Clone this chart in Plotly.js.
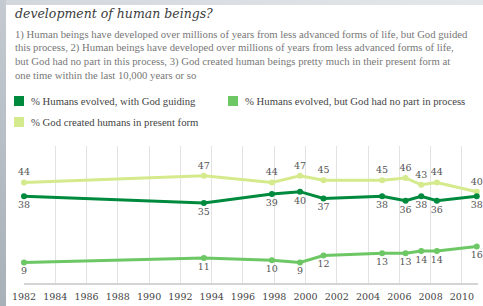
<!DOCTYPE html>
<html><head><meta charset="utf-8">
<script src="https://cdn.plot.ly/plotly-3.0.1.min.js"></script>
<style>
html,body{margin:0;padding:0;background:#fff;}
#wrap{position:relative;width:483px;height:306px;overflow:hidden;background:#fff;}
#top{position:absolute;left:0;top:0;width:483px;height:5px;background:linear-gradient(to right,#d2d7dc,#e4e7ea);}
#left{position:absolute;left:0;top:0;width:6px;height:306px;background:linear-gradient(to bottom,#c4cad0,#a8b0b8);}
#chart{position:absolute;left:0;top:0;width:483px;height:306px;}
</style></head>
<body><div id="wrap"><div id="top"></div><div id="left"></div><div id="chart"></div></div>
<script>
const years = [1982.0, 1993.5, 1997.85, 1999.65, 2001.15, 2004.9, 2006.4, 2007.4, 2008.4, 2010.95];
const godGuiding = [38, 35, 39, 40, 37, 38, 36, 38, 36, 38];
const noGod = [9, 11, 10, 9, 12, 13, 13, 14, 14, 16];
const created = [44, 47, 44, 47, 45, 45, 46, 43, 44, 40];
const tickYears = [1982,1984,1986,1988,1990,1992,1994,1996,1998,2000,2002,2004,2006,2008,2010];
const seriesNames = ["% Humans evolved, with God guiding", "% Humans evolved, but God had no part in process", "% God created humans in present form"];
const colors = ["#008a3e", "#6cc764", "#d5ea8c"];
const titleText = "development of human beings?";
const subtitleLines = [
 "1) Human beings have developed over millions of years from less advanced forms of life, but God guided",
 "this process, 2) Human beings have developed over millions of years from less advanced forms of life,",
 "but God had no part in this process, 3) God created human beings pretty much in their present form at",
 "one time within the last 10,000 years or so"
];

const W = 483, H = 306, L = 24, R = 5, T = 146, B = 23;
const pw = W - L - R, ph = H - T - B;
const px = x => (x - L) / pw;
const py = y => (H - B - y) / ph;
const serif = "Liberation Serif";
const dserif = "DejaVu Serif";
const lblFont = {family: dserif, size: 9.5, color: "#555"};

function tr(vals, i, pos) {
  return {x: years, y: vals, type: "scatter", mode: "lines+markers+text",
    name: seriesNames[i], text: vals.map(String), textposition: pos,
    textfont: lblFont, cliponaxis: false, showlegend: false,
    line: {color: colors[i], width: 3}, marker: {color: colors[i], size: 6}, hoverinfo: "skip"};
}
const data = [tr(created, 2, "top center"), tr(godGuiding, 0, "bottom center"), tr(noGod, 1, "bottom center")];

const annotations = subtitleLines.map((t, k) => ({
  text: t, xref: "paper", yref: "paper", x: px(13), y: py(34 + k * 13.6),
  xanchor: "left", yanchor: "middle", showarrow: false,
  font: {family: serif, size: 10.7, color: "#777"}
}));
const shapes = [];
const legPos = [[14, 101], [228, 101], [14, 122]];
legPos.forEach((p, i) => {
  shapes.push({type: "rect", xref: "paper", yref: "paper", x0: px(p[0]), x1: px(p[0] + 10),
    y0: py(p[1] - 5), y1: py(p[1] + 5), fillcolor: colors[i], line: {width: 0}});
  annotations.push({text: seriesNames[i], xref: "paper", yref: "paper", x: px(p[0] + 15), y: py(p[1]),
    xanchor: "left", yanchor: "middle", showarrow: false, font: {family: serif, size: 10.7, color: "#444"}});
});
annotations.push({text: "<i>" + titleText + "</i>", xref: "paper", yref: "paper", x: px(13), y: py(13),
  xanchor: "left", yanchor: "middle", showarrow: false, font: {family: dserif, size: 12.5, color: "#3c3c3c"}});

const layout = {
  width: W, height: H, margin: {l: L, r: R, t: T, b: B, pad: 0},
  font: {family: serif, color: "#444"},
  paper_bgcolor: "rgba(0,0,0,0)", plot_bgcolor: "rgba(0,0,0,0)",
  xaxis: {range: [1982, 2011.03], tickvals: tickYears, ticktext: tickYears.map(String),
    showgrid: true, gridcolor: "#e2e2e2", gridwidth: 1, zeroline: false,
    showline: true, linecolor: "#d4d4d4", linewidth: 2,
    ticks: "outside", ticklen: 4, tickcolor: "rgba(0,0,0,0)",
    tickfont: {family: dserif, size: 9.5, color: "#444"}, fixedrange: true},
  yaxis: {range: [0, 60], showgrid: false, zeroline: false, showticklabels: false, showline: false, fixedrange: true},
  annotations: annotations, shapes: shapes, showlegend: false
};
Plotly.newPlot("chart", data, layout, {displayModeBar: false, staticPlot: true});
</script></body></html>
